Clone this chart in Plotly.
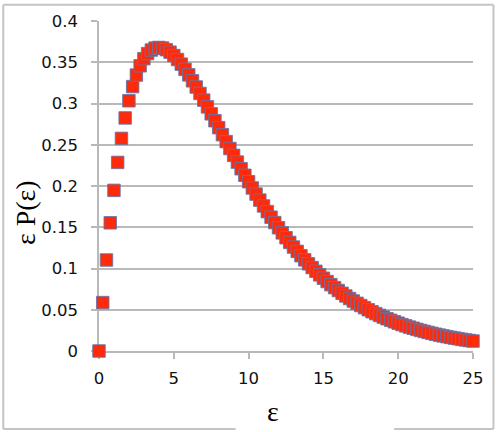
import plotly.graph_objects as go

# epsilon values (step 0.25 from 0 to 25)
eps = [i * 0.25 for i in range(101)]
# epsilon * P(epsilon)
eps_p = [
    0.0000, 0.0587, 0.1103, 0.1554, 0.1947, 0.2286, 0.2577, 0.2825, 0.3033, 0.3205,
    0.3345, 0.3457, 0.3543, 0.3605, 0.3648, 0.3671, 0.3679, 0.3672, 0.3652, 0.3622,
    0.3581, 0.3533, 0.3477, 0.3414, 0.3347, 0.3275, 0.3200, 0.3122, 0.3041, 0.2959,
    0.2875, 0.2791, 0.2707, 0.2622, 0.2538, 0.2454, 0.2371, 0.2290, 0.2209, 0.2130,
    0.2052, 0.1976, 0.1902, 0.1829, 0.1758, 0.1689, 0.1622, 0.1557, 0.1494, 0.1432,
    0.1373, 0.1316, 0.1260, 0.1207, 0.1155, 0.1105, 0.1057, 0.1011, 0.0966, 0.0923,
    0.0882, 0.0842, 0.0804, 0.0768, 0.0733, 0.0699, 0.0667, 0.0636, 0.0606, 0.0578,
    0.0551, 0.0525, 0.0500, 0.0476, 0.0453, 0.0432, 0.0411, 0.0391, 0.0372, 0.0354,
    0.0337, 0.0320, 0.0305, 0.0290, 0.0276, 0.0262, 0.0249, 0.0237, 0.0225, 0.0214,
    0.0203, 0.0193, 0.0183, 0.0174, 0.0165, 0.0157, 0.0149, 0.0141, 0.0134, 0.0127,
    0.0121,
]
x_ticks = [0, 5, 10, 15, 20, 25]
x_tick_text = ["0", "5", "10", "15", "20", "25"]
y_ticks = [0, 0.05, 0.1, 0.15, 0.2, 0.25, 0.3, 0.35, 0.4]
y_tick_text = ["0", "0.05", "0.1", "0.15", "0.2", "0.25", "0.3", "0.35", "0.4"]

fig = go.Figure()
fig.add_trace(go.Scatter(
    x=eps, y=eps_p, mode="markers", cliponaxis=False,
    marker=dict(symbol="square", size=12.5, color="#ff2a0a",
                line=dict(color="rgba(95,120,175,0.85)", width=1)),
    showlegend=False,
))

grid = "#b9b9b9"
fig.update_layout(
    width=496, height=432,
    margin=dict(l=99, r=22, t=17.5, b=81.3),
    paper_bgcolor="white", plot_bgcolor="white",
    font=dict(family="DejaVu Sans", size=16.5, color="#111111"),
    xaxis=dict(range=[0, 25], tickvals=x_ticks, ticktext=x_tick_text,
               showgrid=False, zeroline=False, showline=True, linecolor=grid,
               linewidth=1.5, ticks="outside", ticklen=6, tickcolor=grid,
               tickwidth=1.5, ticklabelstandoff=5, layer="below traces"),
    yaxis=dict(range=[0, 0.4], tickvals=y_ticks, ticktext=y_tick_text,
               showgrid=True, gridcolor=grid, gridwidth=1.5, zeroline=False,
               showline=True, linecolor=grid, linewidth=1.5,
               ticks="outside", ticklen=6, tickcolor=grid, tickwidth=1.5,
               ticklabelstandoff=10, layer="below traces"),
)

# titles as annotations
fig.add_annotation(text="ε", xref="paper", yref="paper", x=0.464, y=-0.184,
                   showarrow=False, font=dict(family="Liberation Serif", size=28, color="black"),
                   xanchor="center", yanchor="middle")
fig.add_annotation(text="ε P(ε)", xref="paper", yref="paper", x=-0.197, y=0.419,
                   showarrow=False, textangle=-90,
                   font=dict(family="Liberation Serif", size=28, color="black"),
                   xanchor="center", yanchor="middle")

# chart frame
fc = "#c4c4c4"
L, R, T, B = -0.256, 1.0547, 1.0495, -0.2365
for x0, y0, x1, y1 in [(L, T, R, T), (L, T, L, B), (R, T, R, B),
                       (L, B, 0.3653, B), (0.7893, B, R, B)]:
    fig.add_shape(type="line", xref="paper", yref="paper", x0=x0, y0=y0, x1=x1, y1=y1,
                  line=dict(color=fc, width=2))

fig.write_html("out.html")
